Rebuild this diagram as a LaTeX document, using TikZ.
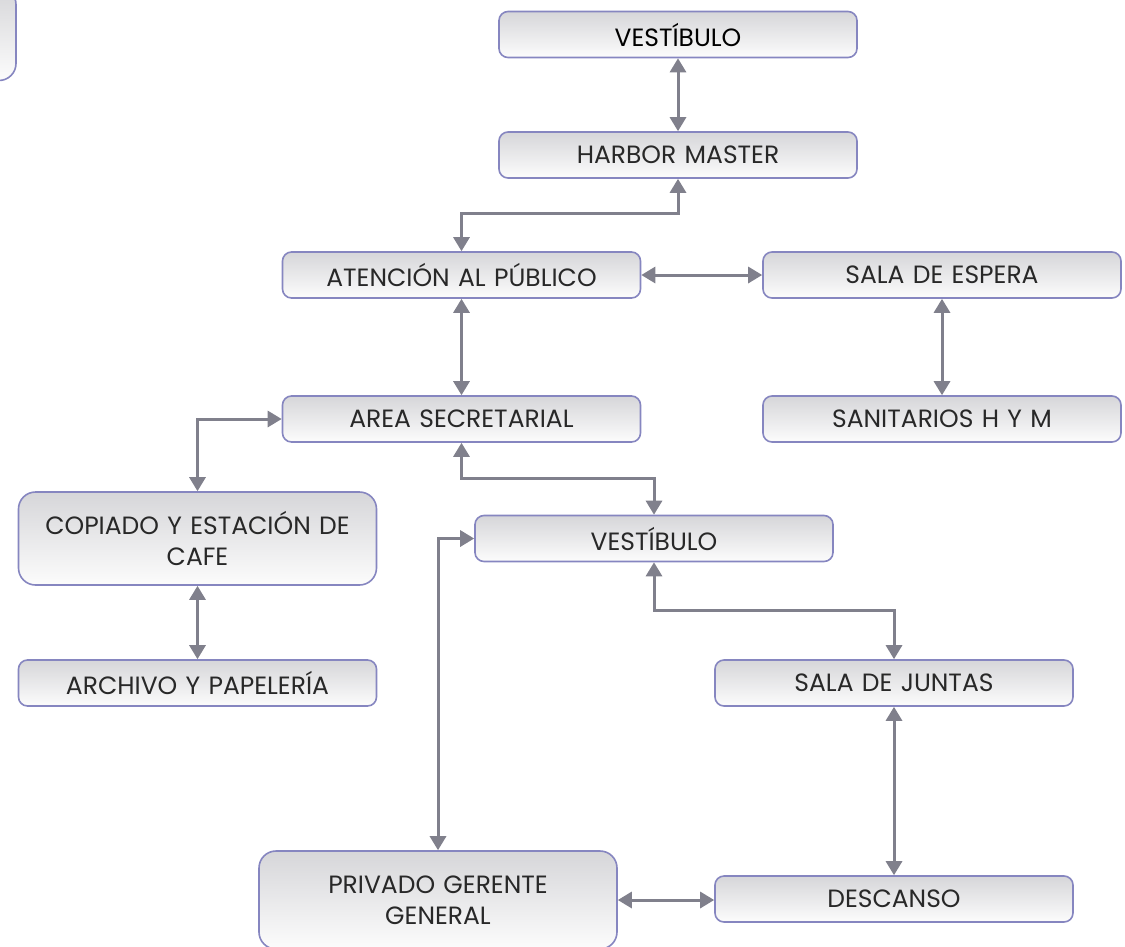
\documentclass[tikz,border=0pt]{standalone}
\usepackage{fontspec}
\setmainfont{Poppins}
\usetikzlibrary{arrows.meta}
\definecolor{boxline}{RGB}{134,134,192}
\definecolor{boxtop}{RGB}{214,214,217}
\definecolor{boxbottom}{RGB}{252,252,252}
\definecolor{linkgray}{RGB}{128,128,140}
\definecolor{labelgray}{RGB}{40,40,40}
\tikzset{
  room/.style={draw=boxline, line width=1.6pt, rounded corners=9pt,
    top color=boxtop, bottom color=boxbottom,
    minimum width=358pt, minimum height=46pt, inner sep=0pt,
    text width=330pt, align=center, text=labelgray,
    font=\fontsize{25}{31}\selectfont},
  tallroom/.style={room, rounded corners=17pt, minimum height=93pt},
  link/.style={draw=linkgray, line width=3pt,
    {Triangle[length=14pt,width=16pt]}-{Triangle[length=14pt,width=16pt]}},
}
\begin{document}
\begin{tikzpicture}[x=1pt,y=-1pt]
\useasboundingbox (0,0) rectangle (1125,946);
\begin{scope}
\clip (0,0) rectangle (1125,946);
% box cut off at the upper left corner
\node[tallroom] (prev) at (-163,34) {};
% rooms
\node[room, text=black] (vesA) at (678,34.5) {VESTÍBULO};
\node[room] (harbor) at (678,155) {HARBOR MASTER};
\node[room] (atencion) at (461.5,275) {ATENCIÓN AL PÚBLICO};
\node[room] (espera) at (942,275) {SALA DE ESPERA};
\node[room] (secret) at (461.5,419) {AREA SECRETARIAL};
\node[room] (sanit) at (942,419) {SANITARIOS H Y M};
\node[tallroom] (copiado) at (197.5,538.5) {COPIADO Y ESTACIÓN DE\\CAFE};
\node[room] (vesB) at (654,538.5) {VESTÍBULO};
\node[room] (archivo) at (197.5,683) {ARCHIVO Y PAPELERÍA};
\node[room] (juntas) at (894,683) {SALA DE JUNTAS};
\node[tallroom, minimum height=98pt] (privado) at (438,900) {PRIVADO GERENTE\\GENERAL};
\node[room] (descanso) at (894,899) {DESCANSO};
\end{scope}
% connectors
\draw[link] (vesA.south) -- (harbor.north);
\draw[link] (harbor.south) -- ++(0,35) -| (atencion.north);
\draw[link] (atencion.east) -- (espera.west);
\draw[link] (espera.south) -- (sanit.north);
\draw[link] (atencion.south) -- (secret.north);
\draw[link] (secret.west) -| (copiado.north);
\draw[link] (secret.south) -- ++(0,36) -| (vesB.north);
\draw[link] (copiado.south) -- (archivo.north);
\draw[link] (vesB.south) -- ++(0,48) -| (juntas.north);
\draw[link] (vesB.west) -| (privado.north);
\draw[link] (juntas.south) -- (descanso.north);
\draw[link] (privado.east) -- (descanso.west |- privado.east);
\end{tikzpicture}
\end{document}
